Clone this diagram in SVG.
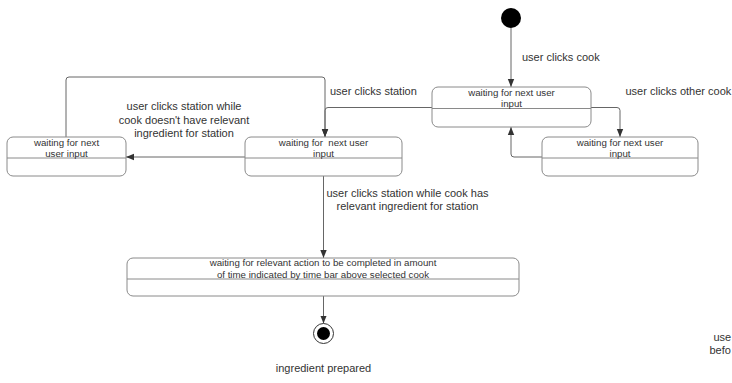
<svg xmlns="http://www.w3.org/2000/svg" width="732" height="383" viewBox="0 0 732 383">
<style>
.box{fill:#fff;stroke:#8a8a8a;stroke-width:1}
.div{stroke:#8a8a8a;stroke-width:1}
.bt{font-family:"Liberation Sans",Arial,sans-serif;font-size:9.7px;fill:#333;text-anchor:middle}
.lb{font-family:"Liberation Sans",Arial,sans-serif;font-size:11px;fill:#333}
.c{fill:none;stroke:#666;stroke-width:1;marker-end:url(#ah)}
</style>
<defs>
<marker id="ah" viewBox="0 0 8 8" refX="8" refY="4" markerWidth="8" markerHeight="8" markerUnits="userSpaceOnUse" orient="auto">
<path d="M0,0.8 L8,4 L0,7.2 Z" fill="#333"/>
</marker>
</defs>
<rect width="732" height="383" fill="#fff"/>
<g id="connectors">
<path class="c" d="M511,28 V87"/>
<path class="c" d="M432,107.5 H328 Q325,107.5 325,110.5 V137"/>
<path class="c" d="M66,137 V80 Q66,77 69,77 H322 Q325,77 325,80 V137"/>
<path class="c" d="M245,157 H126"/>
<path class="c" d="M591,107.5 H617 Q620,107.5 620,110.5 V137"/>
<path class="c" d="M542,157 H514 Q511,157 511,154 V127"/>
<path class="c" d="M323.5,176 V258"/>
<path class="c" d="M323.5,296 V323.5"/>
</g>
<g id="start">
<circle cx="511" cy="18" r="10" fill="#000"/>
</g>
<g id="state-top">
<rect class="box" x="432" y="87" width="159" height="40" rx="6"/>
<line class="div" x1="432" y1="108.5" x2="591" y2="108.5"/>
<text class="bt" x="511.5" y="96">waiting for next user</text>
<text class="bt" x="511.5" y="107">input</text>
</g>
<g id="state-right">
<rect class="box" x="542" y="137" width="156" height="39" rx="6"/>
<line class="div" x1="542" y1="158" x2="698" y2="158"/>
<text class="bt" x="620" y="145.5">waiting for next user</text>
<text class="bt" x="620" y="156.5">input</text>
</g>
<g id="state-left">
<rect class="box" x="7" y="137" width="119" height="39" rx="6"/>
<line class="div" x1="7" y1="158" x2="126" y2="158"/>
<text class="bt" x="66.5" y="145.5">waiting for next</text>
<text class="bt" x="66.5" y="156.5">user input</text>
</g>
<g id="state-middle">
<rect class="box" x="245" y="137" width="157" height="39" rx="6"/>
<line class="div" x1="245" y1="158" x2="402" y2="158"/>
<text class="bt" x="323.5" y="145.5" xml:space="preserve">waiting for  next user</text>
<text class="bt" x="323.5" y="156.5">input</text>
</g>
<g id="state-wait">
<rect class="box" x="127" y="258" width="392" height="38" rx="6"/>
<line class="div" x1="127" y1="279" x2="519" y2="279"/>
<text class="bt" x="323" y="265.5">waiting for relevant action to be completed in amount</text>
<text class="bt" x="323" y="277.5">of time indicated by time bar above selected cook</text>
</g>
<g id="end">
<circle cx="323.5" cy="333.5" r="10" fill="#fff" stroke="#333" stroke-width="1"/>
<circle cx="323.5" cy="333.5" r="6.5" fill="#000"/>
</g>
<g id="labels">
<text class="lb" x="522" y="61">user clicks cook</text>
<text class="lb" x="330" y="95">user clicks station</text>
<text class="lb" x="625.5" y="95">user clicks other cook</text>
<text class="lb" x="184" y="110" text-anchor="middle">user clicks station while</text>
<text class="lb" x="184" y="124" text-anchor="middle">cook doesn't have relevant</text>
<text class="lb" x="184" y="137" text-anchor="middle">ingredient for station</text>
<text class="lb" x="407.5" y="197" text-anchor="middle">user clicks station while cook has</text>
<text class="lb" x="407.5" y="210" text-anchor="middle">relevant ingredient for station</text>
<text class="lb" x="323.5" y="372" text-anchor="middle">ingredient prepared</text>
<text class="lb" x="713.5" y="341">use</text>
<text class="lb" x="709.5" y="354">befo</text>
</g>
</svg>
